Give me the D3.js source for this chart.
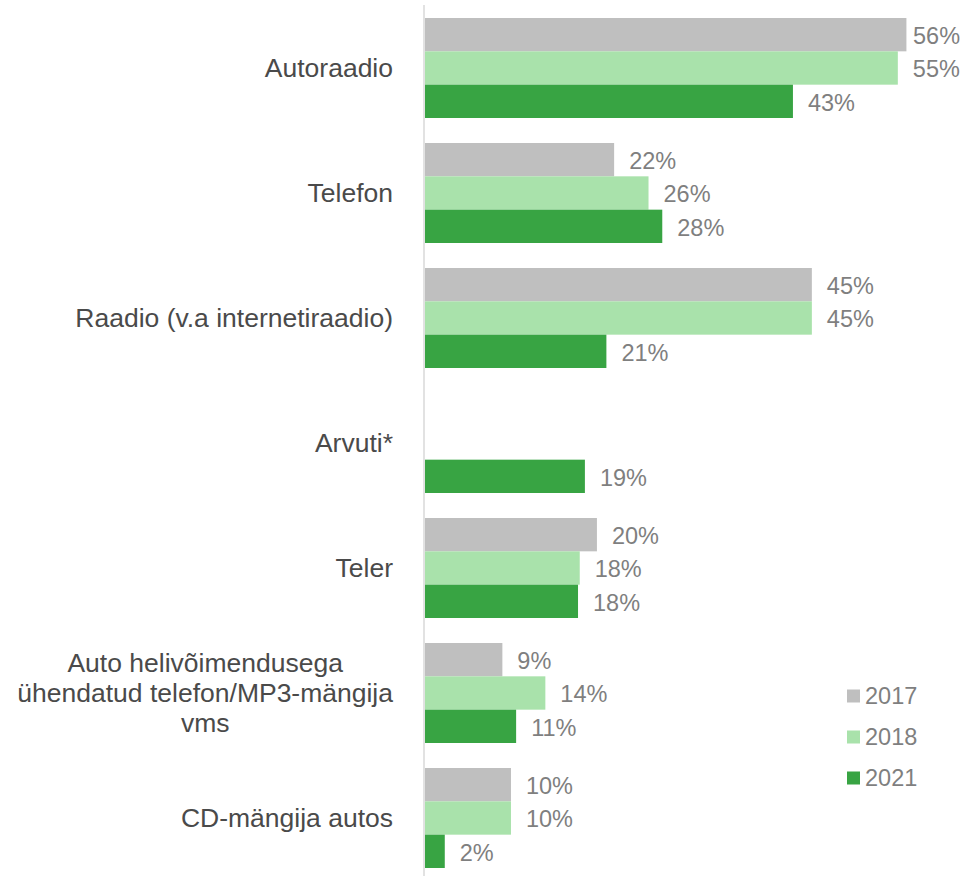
<!DOCTYPE html>
<html>
<head>
<meta charset="utf-8">
<script src="https://cdn.jsdelivr.net/npm/d3@7"></script>
<style>
  body { margin: 0; background: #fff; }
  svg { display: block; font-family: Arial, "Liberation Sans", sans-serif; }
</style>
</head>
<body>
<svg width="964" height="876"></svg>
<script>
// Data (bar lengths, labels are rounded)
var categories = [
  "Autoraadio",
  "Telefon",
  "Raadio (v.a internetiraadio)",
  "Arvuti*",
  "Teler",
  "Auto helivõimendusega|ühendatud telefon/MP3-mängija|vms",
  "CD-mängija autos"
];
var years = ["2017", "2018", "2021"];
var values2017 = [56, 22, 45, null, 20, 9, 10];
var values2018 = [55, 26, 45, null, 18, 14, 10];
var values2021 = [42.8, 27.6, 21.1, 18.6, 17.8, 10.6, 2.3];
var colors = ["#bfbfbf", "#a9e2ab", "#38a443"];

var series = [values2017, values2018, values2021];

// Grafics
const svg = d3.select('svg');

const x = d3.scaleLinear().domain([0, 62]).range([425, 958]);
const y = d3.scaleBand()
  .domain(d3.range(categories.length))
  .range([5.5, 880.5])
  .paddingInner(0.2)
  .paddingOuter(0.1);
const yInner = d3.scaleBand().domain(d3.range(years.length)).range([0, y.bandwidth()]);

// axis line
svg.append('line')
  .attr('x1', 424).attr('x2', 424)
  .attr('y1', 5).attr('y2', 876)
  .attr('stroke', '#d9d9d9')
  .attr('stroke-width', 1.5);

// flatten to rows
var rows = [];
categories.forEach(function(c, i) {
  series.forEach(function(s, j) {
    if (s[i] != null) rows.push({cat: i, year: j, value: s[i]});
  });
});

const groups = svg.append('g');

groups.selectAll('.bar')
  .data(rows)
  .enter()
  .append('rect')
  .classed('bar', true)
  .attr('x', x(0))
  .attr('y', d => y(d.cat) + yInner(d.year))
  .attr('width', d => x(d.value) - x(0))
  .attr('height', yInner.bandwidth())
  .attr('fill', d => colors[d.year]);

groups.selectAll('.val')
  .data(rows)
  .enter()
  .append('text')
  .classed('val', true)
  .attr('x', d => Math.min(x(d.value) + 15, 913))
  .attr('y', d => y(d.cat) + yInner(d.year) + yInner.bandwidth() / 2 + 1)
  .attr('dy', '0.35em')
  .attr('font-size', 23.5)
  .attr('fill', '#7f7f7f')
  .text(d => Math.round(d.value) + '%');

// category labels
var labelRight = 393;
var lineHeight = 30;
categories.forEach(function(c, i) {
  var lines = c.split('|');
  var cy = y(i) + y.bandwidth() / 2;
  var t = svg.append('text')
    .attr('font-size', 26.5)
    .attr('fill', '#4a4a4a');
  lines.forEach(function(l, k) {
    t.append('tspan')
      .attr('y', cy + (k - (lines.length - 1) / 2) * lineHeight)
      .attr('dy', '0.35em')
      .text(l);
  });
  if (lines.length == 1) {
    t.attr('text-anchor', 'end').selectAll('tspan').attr('x', labelRight);
  } else {
    var maxW = 0;
    t.selectAll('tspan').each(function() {
      maxW = Math.max(maxW, this.getComputedTextLength());
    });
    t.attr('text-anchor', 'middle').selectAll('tspan').attr('x', labelRight - maxW / 2);
  }
});

// legend
var legendY = [696, 737, 778];
const legend = svg.selectAll('.legend')
  .data(years)
  .enter()
  .append('g')
  .classed('legend', true)
  .attr('transform', (d, i) => 'translate(847,' + legendY[i] + ')');
legend.append('rect')
  .attr('x', 0).attr('y', -6.5)
  .attr('width', 13).attr('height', 13)
  .attr('fill', (d, i) => colors[i]);
legend.append('text')
  .attr('x', 18).attr('dy', '0.35em')
  .attr('font-size', 23.5)
  .attr('fill', '#7f7f7f')
  .text(d => d);
</script>
</body>
</html>
